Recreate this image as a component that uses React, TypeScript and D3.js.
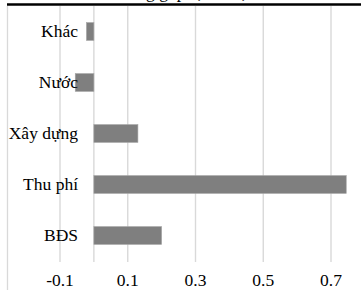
import React from 'react'
import * as d3 from 'd3'

const title = 'Đóng góp lợi nhuận'
const categories = ['Khác', 'Nước', 'Xây dựng', 'Thu phí', 'BĐS']
const values = [-0.022, -0.055, 0.13, 0.745, 0.2]
const tickValues = [-0.1, 0.1, 0.3, 0.5, 0.7]

const WIDTH = 361
const HEIGHT = 290
const FONT = "'Liberation Serif'"

const App = () => {
    const x = d3.scaleLinear().domain([-0.1, 0.7]).range([60, 331])
    const y = d3.scaleBand().domain(categories).range([6, 261]).paddingInner(0.65).paddingOuter(0.325)
    const grid = [...tickValues, 0]

    return (
        <svg width={WIDTH} height={HEIGHT} style={{ position: 'absolute', left: 0, top: 0, background: '#fff' }}>
            {/* title, cut off by the top edge like in the source */}
            <text x={186} y={-2} textAnchor="middle" fontFamily={FONT} fontSize={17.5}>{title}</text>

            {/* left frame line */}
            <line x1={7.5} x2={7.5} y1={6} y2={HEIGHT} stroke="#d9d9d9" strokeWidth={1.3} />

            {/* gridlines */}
            {grid.map(d => (
                <line key={d} x1={x(d)} x2={x(d)} y1={6} y2={262} stroke="#d9d9d9" strokeWidth={1.4} />
            ))}

            {/* bars */}
            {categories.map((c, i) => (
                <rect
                    key={c}
                    x={Math.min(x(0), x(values[i]))}
                    width={Math.abs(x(values[i]) - x(0))}
                    y={y(c)}
                    height={y.bandwidth()}
                    fill="#7f7f7f"
                    stroke="#a6a6a6"
                    strokeWidth={0.6}
                />
            ))}

            {/* category labels */}
            {categories.map(c => (
                <text key={c} x={78} y={(y(c) as number) + y.bandwidth() / 2} dy="0.33em" textAnchor="end" fontFamily={FONT} fontSize={17.5}>
                    {c}
                </text>
            ))}

            {/* x tick labels */}
            {tickValues.map(d => (
                <text key={d} x={x(d)} y={286} textAnchor="middle" fontFamily={FONT} fontSize={17.5}>
                    {d.toFixed(1)}
                </text>
            ))}

            {/* heavy top rule */}
            <line x1={7} x2={WIDTH} y1={4.5} y2={4.5} stroke="#000" strokeWidth={2.5} />
        </svg>
    )
}

export default App
